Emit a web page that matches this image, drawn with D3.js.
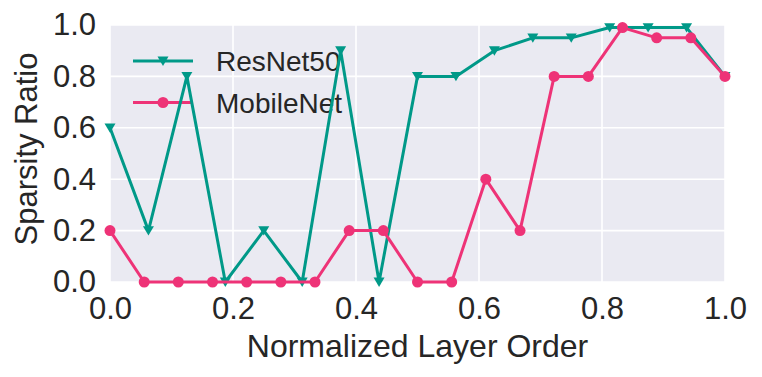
<!DOCTYPE html>
<html>
<head>
<meta charset="utf-8">
<script src="https://cdn.jsdelivr.net/npm/d3@7"></script>
<style>
  body { margin: 0; background: #fff; }
  text { font-family: "Liberation Sans", Arial, sans-serif; fill: #262626; }
</style>
</head>
<body>
<svg id="chart" width="762" height="377"></svg>
<script>
// values
var resnetX = [0, 0.0625, 0.125, 0.1875, 0.25, 0.3125, 0.375, 0.4375, 0.5, 0.5625, 0.625, 0.6875, 0.75, 0.8125, 0.875, 0.9375, 1.0];
var resnetY = [0.6, 0.2, 0.8, 0.0, 0.2, 0.0, 0.9, 0.0, 0.8, 0.8, 0.9, 0.95, 0.95, 0.99, 0.99, 0.99, 0.8];
var mobileX = [0, 0.0556, 0.1111, 0.1667, 0.2222, 0.2778, 0.3333, 0.3889, 0.4444, 0.5, 0.5556, 0.6111, 0.6667, 0.7222, 0.7778, 0.8333, 0.8889, 0.9444, 1.0];
var mobileY = [0.2, 0, 0, 0, 0, 0, 0, 0.2, 0.2, 0, 0, 0.4, 0.2, 0.8, 0.8, 0.99, 0.95, 0.95, 0.8];
var ticks = [0, 0.2, 0.4, 0.6, 0.8, 1.0];
var seriesNames = ["ResNet50", "MobileNet"];
var seriesColors = ["#009988", "#EE3377"];

var svg = d3.select("#chart");
var mLeft = 110, mRight = 725, mTop = 25, mBottom = 282;

var x = d3.scaleLinear().domain([0, 1]).range([mLeft, mRight]);
var y = d3.scaleLinear().domain([0, 1]).range([mBottom, mTop]);

svg.append("rect")
    .attr("x", mLeft).attr("y", mTop)
    .attr("width", mRight - mLeft).attr("height", mBottom - mTop)
    .attr("fill", "#EAEAF2");

var grid = svg.append("g");
ticks.forEach(function(t) {
    grid.append("line")
        .attr("x1", x(t)).attr("x2", x(t))
        .attr("y1", mTop).attr("y2", mBottom)
        .attr("stroke", "#fff").attr("stroke-width", 1.6);
    grid.append("line")
        .attr("x1", mLeft).attr("x2", mRight)
        .attr("y1", y(t)).attr("y2", y(t))
        .attr("stroke", "#fff").attr("stroke-width", 1.6);
});

// axes, no domain or tick lines (seaborn darkgrid)
var xAxis = svg.append("g")
    .attr("transform", "translate(0," + mBottom + ")")
    .call(d3.axisBottom(x).tickValues(ticks).tickFormat(d3.format(".1f")).tickSize(0).tickPadding(15));
var yAxis = svg.append("g")
    .attr("transform", "translate(" + mLeft + ",0)")
    .call(d3.axisLeft(y).tickValues(ticks).tickFormat(d3.format(".1f")).tickSize(0).tickPadding(14));
[xAxis, yAxis].forEach(function(a) {
    a.select(".domain").remove();
    a.selectAll("text").style("font-size", "31px").attr("fill", "#262626")
        .style("font-family", "Liberation Sans, Arial, sans-serif");
});

svg.append("text")
    .attr("x", (mLeft + mRight) / 2).attr("y", 357)
    .attr("text-anchor", "middle")
    .style("font-size", "32px")
    .text("Normalized Layer Order");
svg.append("text")
    .attr("transform", "translate(37," + 149 + ") rotate(-90)")
    .attr("text-anchor", "middle")
    .style("font-size", "31px")
    .text("Sparsity Ratio");

function triDown(g, cx, cy, s, color) {
    g.append("path")
        .attr("d", "M" + (cx - s) + "," + (cy - s * 0.8) + "L" + (cx + s) + "," + (cy - s * 0.8) + "L" + cx + "," + (cy + s * 0.9) + "Z")
        .attr("fill", color);
}

// legend
var leg = svg.append("g");
[0, 1].forEach(function(i) {
    var ly = 61 + i * 41.5;
    leg.append("line")
        .attr("x1", 133).attr("x2", 193).attr("y1", ly).attr("y2", ly)
        .attr("stroke", seriesColors[i]).attr("stroke-width", 3);
    if (i === 0) triDown(leg, 163, ly, 5.5, seriesColors[i]);
    else leg.append("circle").attr("cx", 163).attr("cy", ly).attr("r", 5.5).attr("fill", seriesColors[i]);
    leg.append("text")
        .attr("x", 216).attr("y", ly + 10)
        .style("font-size", "28px")
        .text(seriesNames[i]);
});

var line = d3.line().x(function(d) { return x(d[0]); }).y(function(d) { return y(d[1]); });
var resData = d3.zip(resnetX, resnetY);
var mobData = d3.zip(mobileX, mobileY);

var plot = svg.append("g");
plot.append("path").datum(resData)
    .attr("d", line).attr("fill", "none")
    .attr("stroke", seriesColors[0]).attr("stroke-width", 3).attr("stroke-linejoin", "round");
resData.forEach(function(d) { triDown(plot, x(d[0]), y(d[1]), 5.5, seriesColors[0]); });

plot.append("path").datum(mobData)
    .attr("d", line).attr("fill", "none")
    .attr("stroke", seriesColors[1]).attr("stroke-width", 3).attr("stroke-linejoin", "round");
plot.selectAll("circle.mob").data(mobData).enter().append("circle")
    .attr("class", "mob")
    .attr("cx", function(d) { return x(d[0]); })
    .attr("cy", function(d) { return y(d[1]); })
    .attr("r", 5.5)
    .attr("fill", seriesColors[1]);
</script>
</body>
</html>
